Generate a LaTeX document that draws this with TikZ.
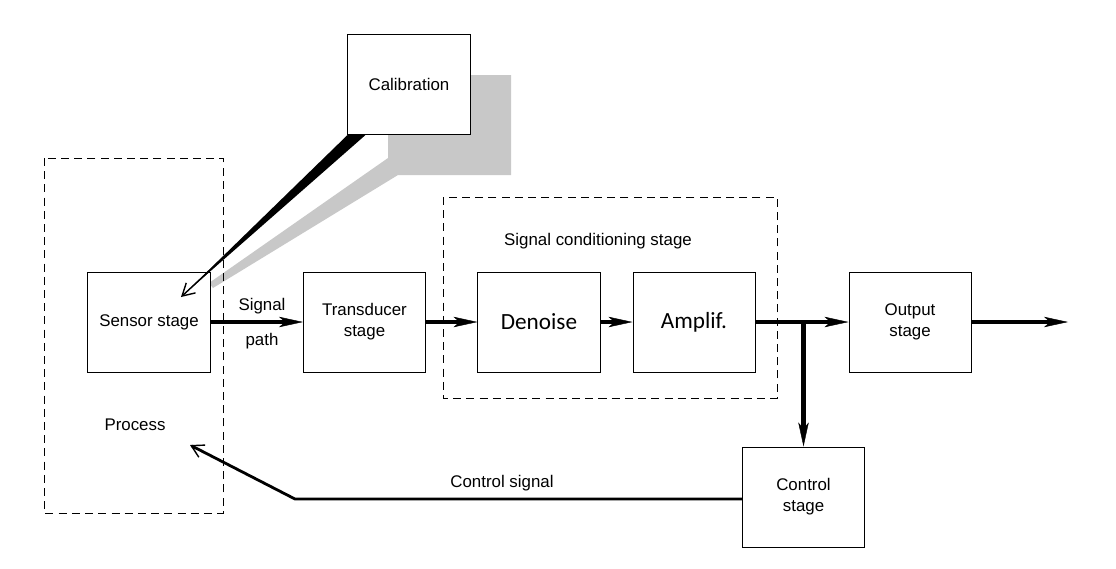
\documentclass[tikz,border=0pt]{standalone}
\usepackage{fontspec}
\setmainfont{Liberation Sans}
\newfontfamily\calibrifont{Carlito}
\usetikzlibrary{arrows.meta,calc}
\definecolor{shadowgray}{RGB}{200,200,200}
\tikzset{
  block/.style={draw, line width=0.7pt, fill=white, minimum width=3.05cm, minimum height=2.5cm, align=center, font=\fontsize{12}{15}\selectfont},
  bigblock/.style={block, font=\calibrifont\fontsize{16.5}{19}\selectfont},
  label/.style={font=\fontsize{12}{15}\selectfont, inner sep=0pt},
  dashbox/.style={draw, line width=0.6pt, dash pattern=on 2mm off 1.3mm},
  sigarrow/.style={line width=3.5pt, -{Stealth[length=6mm,width=2.6mm,inset=1.5mm,line width=0.3pt]}},
  barbarrow/.style={line width=1pt, -{Straight Barb[length=3mm,width=3.4mm,line width=1pt]}}
}
\begin{document}
\begin{tikzpicture}[x=0.025cm, y=-0.025cm]
\useasboundingbox (0,0) rectangle (1116,568);
% shadow of the calibration box
\fill[shadowgray] (388,75) -- (511,75) -- (511,175) -- (398,175) -- (213,288) -- (209,283) -- (388,158) -- cycle;
% dashed groups
\draw[dashbox] (44,158) rectangle (223,513);
\draw[dashbox] (443,197) rectangle (777,398);
% blocks
\node[block] (calib) at (409,84.5) {Calibration};
\node[block] (sensor) at (149,322) {Sensor stage};
\node[block] (transducer) at (364.5,322) {Transducer\\stage};
\node[bigblock] (denoise) at (539,322) {Denoise};
\node[bigblock] (amplif) at (694,322) {Amplif.};
\node[block] (output) at (910,322) {Output\\stage};
\node[block] (control) at (803.5,497) {Control\\stage};
% labels
\node[label] (sigtxt) at (262,306) {Signal};
\node[label] (pathtxt) at (262,341) {path};
\node[label] (proctxt) at (135,425) {Process};
\node[label] (condtxt) at (598,241) {Signal conditioning stage};
\node[label] (ctrltxt) at (502,483) {Control signal};
% free ends
\coordinate (caltip) at (181,297);
\coordinate (outend) at (1068,322);
\coordinate (branch) at (amplif.east -| control.north);
\coordinate (bend) at (295,499);
\coordinate (ctrltip) at (190,445);
% calibration wedge
\fill (calib.south west) -- ($(calib.south west)+(18,0)$) -- (caltip) -- cycle;
\draw[barbarrow] ($(calib.south west)+(9,0)$) -- (caltip);
% signal path
\draw[sigarrow] (sensor) -- (transducer);
\draw[sigarrow] (transducer) -- (denoise);
\draw[sigarrow] (denoise) -- (amplif);
\draw[sigarrow] (amplif) -- (output);
\draw[sigarrow] (output) -- (outend);
\draw[sigarrow] (branch) -- (control);
% feedback
\draw[barbarrow, line width=2pt] (control.west |- bend) -- (bend) -- (ctrltip);
\end{tikzpicture}
\end{document}
